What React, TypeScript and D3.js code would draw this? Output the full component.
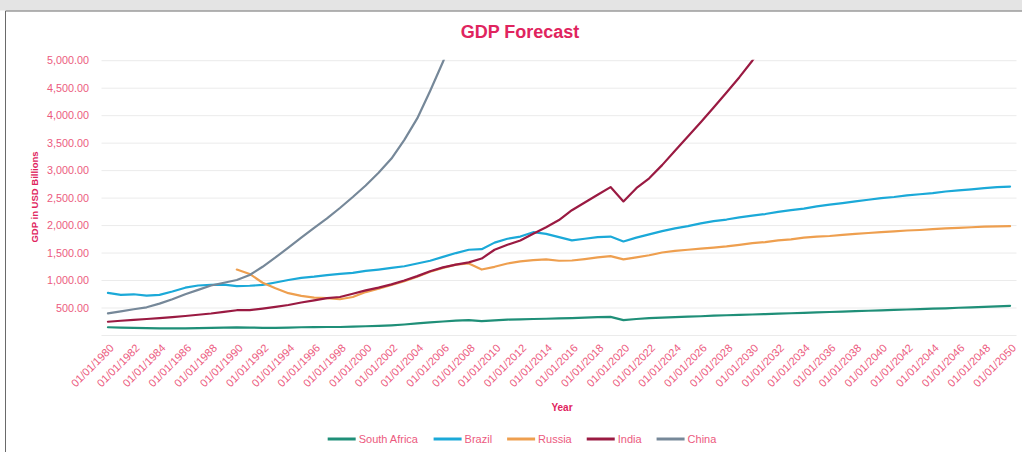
import React from "react";
import * as d3 from "d3";

// Categories
const years: number[] = d3.range(1980, 2051);
const tickYears: number[] = years.filter((y) => y % 2 === 0);
const tickLabels: string[] = tickYears.map((y) => `01/01/${y}`);
const yTicks: number[] = [0, 500, 1000, 1500, 2000, 2500, 3000, 3500, 4000, 4500, 5000];

// Series values (USD billions), 1980..2050
const southAfrica: (number | null)[] = [
  150, 145, 140, 135, 130, 128, 130, 135, 140, 145,
  148, 145, 140, 140, 145, 150, 152, 155, 155, 160,
  168, 175, 185, 200, 220, 240, 255, 270, 280, 260,
  275, 290, 295, 300, 305, 310, 315, 325, 335, 340,
  280, 300, 315, 325, 335, 345, 350, 360, 368, 375,
  382, 390, 397, 405, 412, 420, 428, 435, 442, 450,
  458, 465, 473, 480, 488, 495, 505, 512, 520, 530,
  540,
];
const brazil: (number | null)[] = [
  775, 740, 750, 725, 740, 800, 870, 910, 920, 925,
  900, 905, 920, 965, 1010, 1050, 1070, 1100, 1120, 1140,
  1175, 1200, 1230, 1260, 1310, 1360, 1430, 1500, 1560, 1570,
  1690, 1760, 1800, 1880, 1850, 1790, 1730, 1760, 1790, 1800,
  1710, 1780, 1840, 1900, 1950, 1990, 2040, 2080, 2110, 2150,
  2180, 2210, 2250, 2280, 2310, 2350, 2380, 2410, 2440, 2470,
  2500, 2520, 2550, 2570, 2590, 2620, 2640, 2660, 2680, 2700,
  2710,
];
const russia: (number | null)[] = [
  null, null, null, null, null, null, null, null, null, null,
  1200, 1120, 960, 860, 770, 720, 690, 680, 660, 700,
  790, 850, 920, 990, 1070, 1160, 1230, 1290, 1310, 1200,
  1250, 1310, 1350, 1370, 1385, 1360, 1365, 1390, 1420, 1445,
  1385, 1420, 1460, 1510, 1540, 1560, 1580, 1600, 1620, 1650,
  1680, 1700, 1730, 1750, 1780, 1800, 1810, 1830, 1850, 1865,
  1880, 1895, 1910, 1920, 1935, 1950, 1960, 1970, 1980, 1985,
  1990,
];
const india: (number | null)[] = [
  250, 268, 285, 300, 315, 335, 355, 378, 400, 430,
  460, 462, 490, 520, 555, 600, 640, 680, 700, 760,
  820, 870, 930, 1000, 1080, 1170, 1240, 1290, 1330, 1400,
  1560, 1650, 1730, 1850, 1970, 2100, 2280, 2420, 2560, 2700,
  2440, 2680, 2860, 3100, 3360, 3620, 3880, 4150, 4420, 4700,
  5000, 5320,
];
const china: (number | null)[] = [
  404, 440, 478, 513, 580, 660, 750, 830, 910, 960,
  1010, 1100, 1250, 1420, 1600, 1780, 1960, 2130, 2320, 2520,
  2730, 2960, 3220, 3560, 3950, 4450, 4980, 5600,
];

const seriesNames: string[] = ["South Africa", "Brazil", "Russia", "India", "China"];
const seriesValues: (number | null)[][] = [southAfrica, brazil, russia, india, china];
const seriesColors: string[] = ["#1f8f78", "#1ba9d8", "#ee9f4f", "#9a1a42", "#768899"];

const FONT = "'Liberation Sans', Arial, sans-serif";
const PINK = "#ec5a7e";
const CRIMSON = "#e0245e";

function measure(text: string, font: string): number {
  if (typeof document === "undefined") return text.length * 6;
  const c = document.createElement("canvas");
  const ctx = c.getContext("2d");
  if (!ctx) return text.length * 6;
  ctx.font = font;
  return ctx.measureText(text).width;
}

export default function App() {
  const W = 1022;
  const H = 452;
  const plotLeft = 101.5;
  const plotRight = 1016.5;
  const plotTop = 60.7;
  const plotBottom = 335.5;

  const x = d3.scalePoint<number>().domain(years).range([plotLeft, plotRight]).padding(0.5);
  const y = d3.scaleLinear().domain([0, 5000]).range([plotBottom, plotTop]);

  const fmt = d3.format(",.2f");

  const makeLine = (vals: (number | null)[]) =>
    d3
      .line<number | null>()
      .defined((d) => d != null)
      .x((_, i) => x(years[i]) as number)
      .y((d) => y(d as number))
      .curve(d3.curveLinear)(vals) || "";

  // legend layout
  const legFont = `11px ${FONT}`;
  const lineLen = 28;
  const gapLT = 3;
  const itemGap = 15;
  const widths = seriesNames.map((n) => lineLen + gapLT + measure(n, legFont));
  const total = widths.reduce((a, b) => a + b, 0) + itemGap * (seriesNames.length - 1);
  let cx = 522 - total / 2;
  const legendItems = seriesNames.map((n, i) => {
    const item = { name: n, x: cx, color: seriesColors[i] };
    cx += widths[i] + itemGap;
    return item;
  });

  return (
    <svg
      width={W}
      height={H}
      style={{ position: "fixed", left: 0, top: 0, background: "#fff" }}
      fontFamily={FONT}
    >
      <rect x={0} y={0} width={W} height={H} fill="#ffffff" />
      <rect x={0} y={0} width={W} height={10.5} fill="#e4e4e4" />
      <line x1={5.5} y1={11} x2={W} y2={11} stroke="#6a6a6a" strokeWidth={1} />
      <line x1={5.5} y1={11} x2={5.5} y2={H} stroke="#6a6a6a" strokeWidth={1} />

      <defs>
        <clipPath id="plotClip">
          <rect x={plotLeft - 2} y={plotTop - 1} width={plotRight - plotLeft + 4} height={plotBottom - plotTop + 4} />
        </clipPath>
      </defs>

      {/* Title */}
      <text x={520} y={38} textAnchor="middle" fontSize={18} fontWeight="bold" fill={CRIMSON}>
        GDP Forecast
      </text>

      {/* gridlines */}
      {yTicks.map((t) => (
        <line key={t} x1={plotLeft} x2={plotRight} y1={y(t)} y2={y(t)} stroke="#ebebeb" strokeWidth={1} />
      ))}

      {/* y tick labels */}
      {yTicks
        .filter((t) => t > 0)
        .map((t) => (
          <text key={t} x={89} y={y(t)} dy="0.35em" textAnchor="end" fontSize={10.8} fill={PINK}>
            {fmt(t)}
          </text>
        ))}

      {/* y axis title */}
      <text
        transform={`translate(35,${197}) rotate(-90)`}
        textAnchor="middle"
        dy="0.35em"
        fontSize={9.5}
        fontWeight="bold"
        fill={CRIMSON}
      >
        GDP in USD Billions
      </text>

      {/* x tick labels */}
      {tickYears.map((yr, i) => (
        <text
          key={yr}
          transform={`translate(${(x(yr) as number) + 4},${346}) rotate(-45)`}
          textAnchor="end"
          dy="0.35em"
          fontSize={11}
          fill={PINK}
        >
          {tickLabels[i]}
        </text>
      ))}

      {/* x axis title */}
      <text x={562} y={407} dy="0.35em" textAnchor="middle" fontSize={10} fontWeight="bold" fill={CRIMSON}>
        Year
      </text>

      {/* series */}
      <g clipPath="url(#plotClip)">
        {seriesValues.map((vals, i) => (
          <path
            key={seriesNames[i]}
            d={makeLine(vals)}
            fill="none"
            stroke={seriesColors[i]}
            strokeWidth={2.2}
            strokeLinejoin="round"
            strokeLinecap="round"
          />
        ))}
      </g>

      {/* legend */}
      {legendItems.map((it) => (
        <g key={it.name}>
          <line x1={it.x} x2={it.x + lineLen} y1={439} y2={439} stroke={it.color} strokeWidth={3} />
          <text x={it.x + lineLen + gapLT} y={439} dy="0.35em" fontSize={11} fill={PINK}>
            {it.name}
          </text>
        </g>
      ))}
    </svg>
  );
}
